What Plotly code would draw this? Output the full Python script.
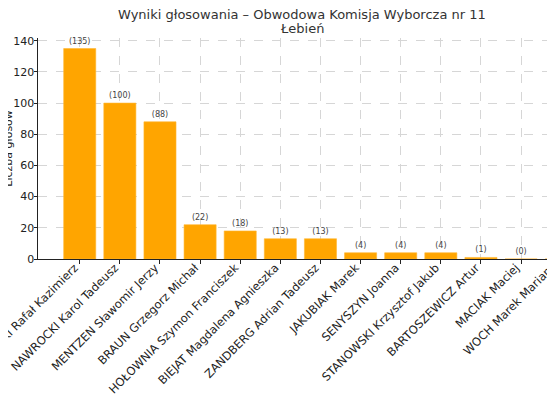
import plotly.graph_objects as go

candidates = [
    "TRZASKOWSKI Rafał Kazimierz",
    "NAWROCKI Karol Tadeusz",
    "MENTZEN Sławomir Jerzy",
    "BRAUN Grzegorz Michał",
    "HOŁOWNIA Szymon Franciszek",
    "BIEJAT Magdalena Agnieszka",
    "ZANDBERG Adrian Tadeusz",
    "JAKUBIAK Marek",
    "SENYSZYN Joanna",
    "STANOWSKI Krzysztof Jakub",
    "BARTOSZEWICZ Artur",
    "MACIAK Maciej",
    "WOCH Marek Marian",
]
votes = [135, 100, 88, 22, 18, 13, 13, 4, 4, 4, 1, 0, 0]
y_ticks = [0, 20, 40, 60, 80, 100, 120, 140]
title_lines = ["Wyniki głosowania – Obwodowa Komisja Wyborcza nr 11", "Łebień"]

positions = list(range(len(candidates)))

# page has an 8px body margin; figure sized to fill the rest of the 555x400 window
W, H = 547, 392
ml, mr, mt, mb = 30.3, 0, 30, 141.3
plot_w = W - ml - mr
plot_h = H - mt - mb
px_per_unit = 40.1
x_left = -1.04
x_right = x_left + plot_w / px_per_unit

FONT = "DejaVu Sans"
XFS = 11.5

fig = go.Figure()
fig.add_trace(go.Bar(
    x=positions,
    y=votes,
    width=0.8,
    marker=dict(color="#FFA500", line=dict(color="#FFB733", width=0.6)),
    texttemplate="(%{y})",
    textposition="outside",
    textfont=dict(family=FONT, size=8, color="#444444"),
    cliponaxis=False,
    hoverinfo="skip",
))

visible = [p for p in positions if p <= x_right]
hidden = [p for p in positions if p > x_right]


def py(fig_y):
    return 1 + (mt - fig_y) / plot_h


def px(fig_x):
    return (fig_x - ml) / plot_w


annotations = [
    dict(
        text=title_lines[0], xref="paper", yref="paper",
        x=px(294), y=py(7), xanchor="center", yanchor="middle",
        showarrow=False, font=dict(family=FONT, size=13, color="#333333"),
    ),
    dict(
        text=title_lines[1], xref="paper", yref="paper",
        x=px(294), y=py(20.5), xanchor="center", yanchor="middle",
        showarrow=False, font=dict(family=FONT, size=13, color="#333333"),
    ),
    dict(
        text="Liczba głosów",
        xref="paper", yref="paper",
        x=px(0.5), y=0.5,
        xanchor="center", yanchor="middle",
        textangle=-90, showarrow=False,
        font=dict(family=FONT, size=11, color="#222222"),
    ),
]
for p in hidden:
    annotations.append(dict(
        text=candidates[p], xref="paper", yref="paper",
        x=(p - x_left) / (x_right - x_left) - 4 / plot_w, y=-2 / plot_h,
        xanchor="right", yanchor="top",
        textangle=-45, showarrow=False,
        font=dict(family=FONT, size=XFS, color="#222222"),
    ))

fig.update_layout(
    width=W, height=H,
    margin=dict(l=ml, r=mr, t=mt, b=mb, autoexpand=False),
    paper_bgcolor="white",
    plot_bgcolor="white",
    showlegend=False,
    font=dict(family=FONT, size=11, color="#222222"),
    annotations=annotations,
)
common = dict(
    ticks="outside", ticklen=3.5, tickcolor="#222222", tickwidth=0.8,
    showline=True, linecolor="#222222", linewidth=1,
    showgrid=True, gridcolor="#d6d6d6", gridwidth=0.8, griddash="dash",
    zeroline=False,
    layer="above traces",
    automargin=False,
    ticklabeloverflow="allow",
)
fig.update_xaxes(
    range=[x_left, x_right],
    tickmode="array",
    tickvals=visible,
    ticktext=[candidates[p] for p in visible],
    tickangle=-45,
    tickfont=dict(family=FONT, size=XFS, color="#222222"),
    ticklabelstandoff=-7,
    ticklabelshift=-5,
    **common,
)
fig.update_yaxes(
    range=[0, 141.75],
    tickmode="array",
    tickvals=y_ticks,
    tickfont=dict(family=FONT, size=11, color="#222222"),
    ticklabelstandoff=-3,
    **common,
)

fig.write_html("out.html")
